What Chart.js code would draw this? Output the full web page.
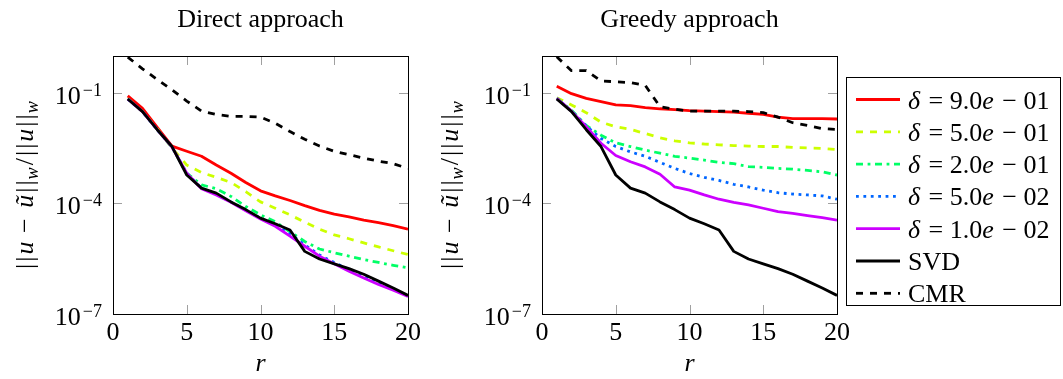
<!DOCTYPE html>
<html>
<head>
<meta charset="utf-8">
<script src="https://cdn.jsdelivr.net/npm/chart.js@4.4.0/dist/chart.umd.min.js"></script>
<style>
  html, body { margin: 0; padding: 0; background: #fff; }
  #wrap { position: relative; width: 1063px; height: 379px; }
  #wrap canvas { position: absolute; left: 0; top: 0; }
</style>
</head>
<body>
<div id="wrap">
  <canvas id="directChart" width="1063" height="379"></canvas>
  <canvas id="greedyChart" width="1063" height="379"></canvas>
</div>
<script>
// reduced basis size
const rValues = [1, 2, 3, 4, 5, 6, 7, 8, 9, 10, 11, 12, 13, 14, 15, 16, 17, 18, 19, 20];
const yTickValues = [1e-7, 1e-4, 1e-1];
const xTickStep = 5;

// SVD reference (same in both panels)
const svd = [6.8e-2, 3.1e-2, 1.0e-2, 3.5e-3, 5.9e-4, 2.6e-4, 1.9e-4, 1.1e-4, 6.8e-5, 4.0e-5,
             2.8e-5, 1.9e-5, 5.0e-6, 3.1e-6, 2.3e-6, 1.7e-6, 1.2e-6, 7.8e-7, 5.1e-7, 3.2e-7];

// Direct approach
const directD90 = [8.3e-2, 3.8e-2, 1.15e-2, 3.6e-3, 2.6e-3, 1.9e-3, 1.1e-3, 6.6e-4, 3.7e-4, 2.2e-4,
                   1.6e-4, 1.2e-4, 8.7e-5, 6.5e-5, 5.1e-5, 4.3e-5, 3.5e-5, 3.0e-5, 2.5e-5, 2.0e-5];
const directD50 = [7.0e-2, 3.1e-2, 1.05e-2, 3.2e-3, 1.1e-3, 6.9e-4, 5.1e-4, 3.7e-4, 2.1e-4, 1.1e-4,
                   7.4e-5, 4.9e-5, 3.1e-5, 2.0e-5, 1.4e-5, 1.1e-5, 8.5e-6, 6.6e-6, 5.2e-6, 4.1e-6];
const directD20 = [6.9e-2, 3.1e-2, 1.0e-2, 3.3e-3, 6.6e-4, 3.2e-4, 2.5e-4, 1.55e-4, 8.3e-5, 4.9e-5,
                   3.2e-5, 1.7e-5, 9.3e-6, 5.8e-6, 4.6e-6, 3.7e-6, 3.0e-6, 2.5e-6, 2.1e-6, 1.8e-6];
const directD05 = [6.8e-2, 3.1e-2, 1.0e-2, 3.4e-3, 6.6e-4, 2.6e-4, 1.8e-4, 1.1e-4, 6.6e-5, 4.0e-5,
                   2.6e-5, 1.5e-5, 7.5e-6, 4.0e-6, 2.5e-6, 1.6e-6, 1.05e-6, 7.0e-7, 4.7e-7, 3.1e-7];
const directD01 = [6.8e-2, 3.1e-2, 1.0e-2, 3.4e-3, 6.6e-4, 2.5e-4, 1.7e-4, 1.07e-4, 6.3e-5, 3.8e-5,
                   2.4e-5, 1.3e-5, 6.9e-6, 3.7e-6, 2.3e-6, 1.45e-6, 9.5e-7, 6.3e-7, 4.4e-7, 3.0e-7];
const directCMR = [9.3e-1, 4.5e-1, 2.3e-1, 1.2e-1, 6.0e-2, 3.2e-2, 2.6e-2, 2.3e-2, 2.3e-2, 2.2e-2,
                   1.5e-2, 8.9e-3, 5.5e-3, 3.6e-3, 2.6e-3, 2.1e-3, 1.7e-3, 1.4e-3, 1.2e-3, 8.9e-4];

// Greedy approach
const greedyD90 = [1.5e-1, 9.5e-2, 7.1e-2, 5.8e-2, 4.7e-2, 4.5e-2, 4.0e-2, 3.7e-2, 3.5e-2, 3.3e-2,
                   3.2e-2, 3.1e-2, 3.0e-2, 2.8e-2, 2.6e-2, 2.2e-2, 2.0e-2, 2.0e-2, 2.0e-2, 1.95e-2];
const greedyD50 = [7.4e-2, 4.7e-2, 2.9e-2, 1.6e-2, 1.2e-2, 1.02e-2, 7.9e-3, 6.0e-3, 5.0e-3, 4.4e-3,
                   4.1e-3, 3.9e-3, 3.7e-3, 3.6e-3, 3.5e-3, 3.5e-3, 3.3e-3, 3.2e-3, 3.1e-3, 2.9e-3];
const greedyD20 = [7.1e-2, 3.4e-2, 1.3e-2, 7.1e-3, 4.4e-3, 3.5e-3, 2.8e-3, 2.3e-3, 1.9e-3, 1.7e-3,
                   1.5e-3, 1.3e-3, 1.2e-3, 1.0e-3, 9.5e-4, 8.9e-4, 8.5e-4, 7.9e-4, 7.2e-4, 5.9e-4];
const greedyD05 = [7.1e-2, 3.2e-2, 1.26e-2, 5.8e-3, 3.5e-3, 2.5e-3, 1.9e-3, 1.3e-3, 8.9e-4, 6.5e-4,
                   5.1e-4, 4.2e-4, 3.3e-4, 2.8e-4, 2.3e-4, 1.95e-4, 1.8e-4, 1.7e-4, 1.6e-4, 1.3e-4];
const greedyD01 = [7.1e-2, 3.2e-2, 1.2e-2, 4.3e-3, 2.0e-3, 1.35e-3, 9.8e-4, 6.2e-4, 2.8e-4, 2.3e-4,
                   1.7e-4, 1.3e-4, 1.07e-4, 9.1e-5, 7.4e-5, 6.0e-5, 5.4e-5, 4.7e-5, 4.1e-5, 3.5e-5];
const greedyCMR = [9.5e-1, 4.0e-1, 4.0e-1, 2.1e-1, 2.0e-1, 1.9e-1, 1.6e-1, 4.2e-2, 3.6e-2, 3.2e-2,
                   3.2e-2, 3.2e-2, 3.2e-2, 3.1e-2, 2.9e-2, 2.2e-2, 1.55e-2, 1.3e-2, 1.07e-2, 1.02e-2];

// legend labels: [text, italic, subscript, extra space after]
const legendLabels = [
    [['δ', true, false, 2], [' = 9.0', false], ['e', true, false, 2], [' − 01', false]],
    [['δ', true, false, 2], [' = 5.0', false], ['e', true, false, 2], [' − 01', false]],
    [['δ', true, false, 2], [' = 2.0', false], ['e', true, false, 2], [' − 01', false]],
    [['δ', true, false, 2], [' = 5.0', false], ['e', true, false, 2], [' − 02', false]],
    [['δ', true, false, 2], [' = 1.0', false], ['e', true, false, 2], [' − 02', false]],
    [['SVD', false]],
    [['CMR', false]]
];

const LW = 2.8;
const lineStyles = [
    { color: '#ff0000', dash: [] },
    { color: '#ccff00', dash: [7, 7] },
    { color: '#00ff66', dash: [7, 4.6, 2.8, 4.6] },
    { color: '#0066ff', dash: [2.8, 4.6] },
    { color: '#cc00ff', dash: [] },
    { color: '#000000', dash: [] },
    { color: '#000000', dash: [7, 7] }
];

const SERIF = '"Liberation Serif", "DejaVu Serif", serif';

function buildDatasets(series) {
    return series.map((data, i) => ({
        label: legendLabels[i].map(p => p[0]).join(''),
        richLabel: legendLabels[i],
        data: data,
        borderColor: lineStyles[i].color,
        backgroundColor: lineStyles[i].color,
        borderDash: lineStyles[i].dash,
        borderWidth: LW,
        borderCapStyle: 'butt',
        borderJoinStyle: 'round',
        pointRadius: 0,
        tension: 0,
        fill: false,
        order: series.length - 1 - i
    }));
}

// rich text helpers: pieces are [text, italic, sub, extra]
function pieceFont(p, size) {
    const s = p[2] ? size * 0.7 : size;
    return (p[1] ? 'italic ' : '') + s + 'px ' + SERIF;
}
function richWidth(ctx, parts, size) {
    let w = 0;
    parts.forEach(p => {
        ctx.font = pieceFont(p, size);
        w += ctx.measureText(p[0]).width + (p[3] || 0);
    });
    return w;
}
function drawRich(ctx, parts, x, y, size) {
    parts.forEach(p => {
        ctx.font = pieceFont(p, size);
        ctx.fillText(p[0], x, p[2] ? y + 5 : y);
        x += ctx.measureText(p[0]).width + (p[3] || 0);
    });
}

const yLabelParts = [
    ['|', false, false, 2], ['|', false, false, 2], ['u', true, false, 2], [' − ', false, false, 4],
    ['ũ', true, false, 2], ['|', false, false, 2], ['|', false, false, 1], ['w', true, true, 2],
    ['/', false, false, 2], ['|', false, false, 2], ['|', false, false, 2], ['u', true, false, 2],
    ['|', false, false, 2], ['|', false, false, 1], ['w', true, true, 0]
];

const panelDecor = {
    id: 'panelDecor',
    afterDatasetsDraw(chart, args, opts) {
        const { ctx, chartArea: a, scales: { x, y } } = chart;
        ctx.save();
        // tick marks inside the box, on all four sides
        ctx.strokeStyle = '#a0a0a0';
        ctx.lineWidth = 1;
        ctx.beginPath();
        x.ticks.forEach(t => {
            const px = Math.round(x.getPixelForValue(t.value)) + 0.5;
            ctx.moveTo(px, a.top); ctx.lineTo(px, a.top + 9);
            ctx.moveTo(px, a.bottom); ctx.lineTo(px, a.bottom - 9);
        });
        y.ticks.forEach(t => {
            const py = Math.round(y.getPixelForValue(t.value)) + 0.5;
            ctx.moveTo(a.left, py); ctx.lineTo(a.left + 9, py);
            ctx.moveTo(a.right, py); ctx.lineTo(a.right - 9, py);
        });
        ctx.stroke();
        // frame
        ctx.strokeStyle = '#000';
        ctx.strokeRect(Math.round(a.left) + 0.5, Math.round(a.top) + 0.5,
                       Math.round(a.right - a.left), Math.round(a.bottom - a.top));

        ctx.fillStyle = '#000';
        ctx.textBaseline = 'alphabetic';
        // y tick labels 10^k
        y.ticks.forEach(t => {
            const py = y.getPixelForValue(t.value);
            const e = Math.round(Math.log10(t.value));
            const sup = (e < 0 ? '−' : '') + Math.abs(e);
            ctx.font = '26px ' + SERIF;
            const bw = ctx.measureText('10').width;
            ctx.font = '18px ' + SERIF;
            const sw = ctx.measureText(sup).width;
            const x0 = a.left - 11 - sw - bw - 2;
            ctx.font = '26px ' + SERIF;
            ctx.textAlign = 'left';
            ctx.fillText('10', x0, py + 11);
            ctx.font = '18px ' + SERIF;
            ctx.fillText(sup, x0 + bw + 2, py + 3);
        });
        // x tick labels
        ctx.font = '26px ' + SERIF;
        ctx.textAlign = 'center';
        x.ticks.forEach(t => {
            ctx.fillText(String(t.value), x.getPixelForValue(t.value), a.bottom + 26);
        });
        // x axis title
        ctx.font = 'italic 26px ' + SERIF;
        ctx.fillText('r', (a.left + a.right) / 2, 371);
        // panel title
        ctx.font = '26px ' + SERIF;
        ctx.fillText(opts.title, (a.left + a.right) / 2, 27);
        // y axis title, rotated
        ctx.textAlign = 'left';
        ctx.translate(a.left - opts.yLabelGap, (a.top + a.bottom) / 2);
        ctx.rotate(-Math.PI / 2);
        const w = richWidth(ctx, yLabelParts, 26);
        drawRich(ctx, yLabelParts, -w / 2, 0, 26);
        ctx.restore();

        if (opts.legend) {
            const lx = 846, ly = 77.5, lw = 214, lh = 228;
            ctx.save();
            ctx.fillStyle = '#fff';
            ctx.fillRect(lx, ly, lw, lh);
            ctx.strokeStyle = '#000';
            ctx.lineWidth = 1;
            ctx.strokeRect(lx + 0.5, ly, lw, lh);
            chart.data.datasets.forEach((ds, i) => {
                const yy = 99.5 + i * 32.3;
                ctx.strokeStyle = ds.borderColor;
                ctx.lineWidth = ds.borderWidth;
                ctx.setLineDash(ds.borderDash);
                ctx.beginPath();
                ctx.moveTo(856, yy);
                ctx.lineTo(900, yy);
                ctx.stroke();
                ctx.setLineDash([]);
                ctx.fillStyle = '#000';
                ctx.textBaseline = 'alphabetic';
                drawRich(ctx, ds.richLabel, 908, yy + 9, 26);
            });
            ctx.restore();
        }
    }
};

function makePanel(id, series, layout) {
    return new Chart(document.getElementById(id), {
        type: 'line',
        data: { labels: rValues, datasets: buildDatasets(series) },
        options: {
            responsive: false,
            animation: false,
            devicePixelRatio: 1,
            layout: {
                autoPadding: false,
                padding: { left: 0, top: layout.top, right: layout.right, bottom: 0 }
            },
            plugins: {
                legend: { display: false },
                title: { display: false },
                tooltip: { enabled: false },
                panelDecor: { title: layout.title, yLabelGap: layout.yLabelGap, legend: layout.legend }
            },
            scales: {
                x: {
                    type: 'linear',
                    min: 0, max: 20,
                    ticks: { display: false, stepSize: xTickStep },
                    grid: { display: false },
                    border: { display: false },
                    afterFit: s => { s.height = layout.xAxisHeight; }
                },
                y: {
                    type: 'logarithmic',
                    min: 1e-7, max: 1,
                    ticks: { display: false },
                    grid: { display: false },
                    border: { display: false },
                    afterBuildTicks: s => { s.ticks = yTickValues.map(v => ({ value: v })); },
                    afterFit: s => { s.width = layout.yAxisWidth; }
                }
            }
        },
        plugins: [panelDecor]
    });
}

makePanel('directChart',
    [directD90, directD50, directD20, directD05, directD01, svd, directCMR],
    { title: 'Direct approach', top: 56, right: 1063 - 408, yAxisWidth: 113, xAxisHeight: 65,
      yLabelGap: 80, legend: false });

makePanel('greedyChart',
    [greedyD90, greedyD50, greedyD20, greedyD05, greedyD01, svd, greedyCMR],
    { title: 'Greedy approach', top: 56, right: 1063 - 837, yAxisWidth: 542, xAxisHeight: 65,
      yLabelGap: 84, legend: true });
</script>
</body>
</html>
